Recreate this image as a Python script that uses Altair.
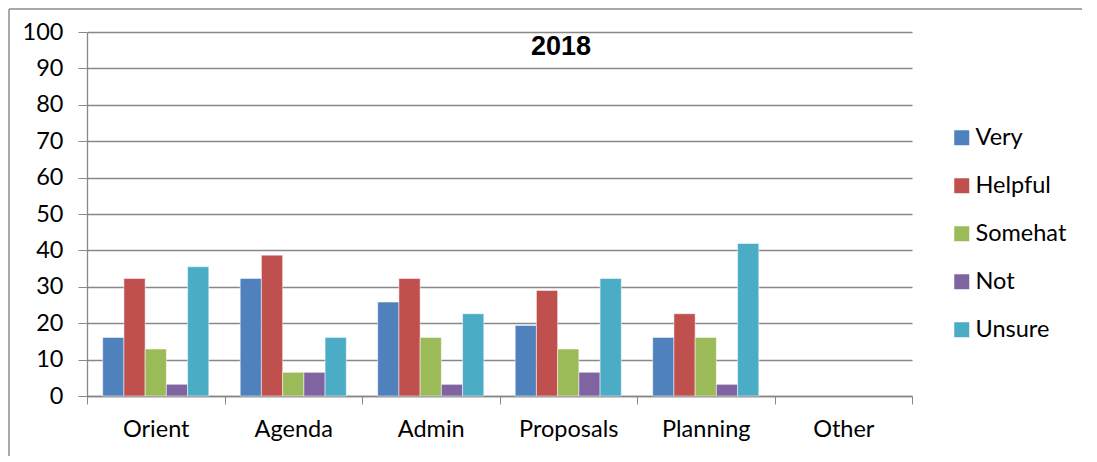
import altair as alt
import pandas as pd

categories = ["Orient", "Agenda", "Admin", "Proposals", "Planning", "Other"]
series = ["Very", "Helpful", "Somehat", "Not", "Unsure"]
very = [16.1, 32.3, 25.8, 19.4, 16.1, None]
helpful = [32.3, 38.7, 32.3, 29.0, 22.6, None]
somehat = [12.9, 6.5, 16.1, 12.9, 16.1, None]
not_ = [3.2, 6.5, 3.2, 6.5, 3.2, None]
unsure = [35.5, 16.1, 22.6, 32.3, 41.9, None]
colors = ["#4F81BD", "#C0504D", "#9BBB59", "#8064A2", "#4BACC6"]
title_text = "2018"

rows = []
for s, vals in zip(series, [very, helpful, somehat, not_, unsure]):
    for c, v in zip(categories, vals):
        rows.append({"Category": c, "Series": s, "Value": v})
df = pd.DataFrame(rows)

FONT = "Lato"
GRID = "#888888"

bars = alt.Chart(df).mark_bar(stroke="white", strokeWidth=0.5).encode(
    x=alt.X("Category:N", sort=categories,
            scale=alt.Scale(paddingInner=0, paddingOuter=0),
            axis=alt.Axis(title=None, labelAngle=0, bandPosition=0, ticks=True,
                          tickSize=8, tickColor=GRID, domainColor=GRID,
                          labelFont=FONT, labelFontSize=23.5, labelColor="black",
                          labelPadding=13, grid=False,
                          labelAlign="center", tickBand="extent")),
    xOffset=alt.XOffset("Series:N", sort=series,
                        scale=alt.Scale(paddingInner=0, paddingOuter=0.74)),
    y=alt.Y("Value:Q", scale=alt.Scale(domain=[0, 100], nice=False),
            axis=alt.Axis(title=None, values=list(range(0, 101, 10)),
                          tickSize=9, tickColor=GRID, domainColor=GRID,
                          gridColor=GRID, gridWidth=1.3, domainWidth=1.3,
                          labelFont=FONT, labelFontSize=23.5, labelColor="black",
                          labelPadding=15)),
    color=alt.Color("Series:N", sort=series,
                    scale=alt.Scale(domain=series, range=colors),
                    legend=alt.Legend(title=None, orient="none", legendX=863, legendY=94,
                                      padding=0, symbolType="square", symbolSize=225,
                                      symbolStrokeWidth=0, labelFont=FONT,
                                      labelFontSize=23.5, labelColor="black",
                                      rowPadding=23, labelOffset=2)),
)

title = alt.Chart(pd.DataFrame({"t": [title_text]})).mark_text(
    font="Liberation Sans", fontSize=27, fontWeight="bold", color="black",
    align="center", baseline="middle"
).encode(text="t:N", x=alt.value(474), y=alt.value(15))

frame_df = pd.DataFrame({"k": [0]})
left_edge = alt.Chart(frame_df).mark_rule(color="#8c8c8c", strokeWidth=1.5).encode(
    x=alt.value(-78), y=alt.value(-23), y2=alt.value(424))
top_edge = alt.Chart(frame_df).mark_rule(color="#8c8c8c", strokeWidth=1.5).encode(
    x=alt.value(-78), x2=alt.value(995), y=alt.value(-23))

chart = alt.layer(bars, title, left_edge, top_edge).properties(
    width=825, height=364,
    autosize=alt.AutoSizeParams(type="none"),
    padding={"left": 79, "top": 24, "right": 170, "bottom": 60},
).configure_view(stroke=None).configure_axis(domainWidth=1.3)

chart.save("out.html", embed_options={"renderer": "svg", "actions": False})
